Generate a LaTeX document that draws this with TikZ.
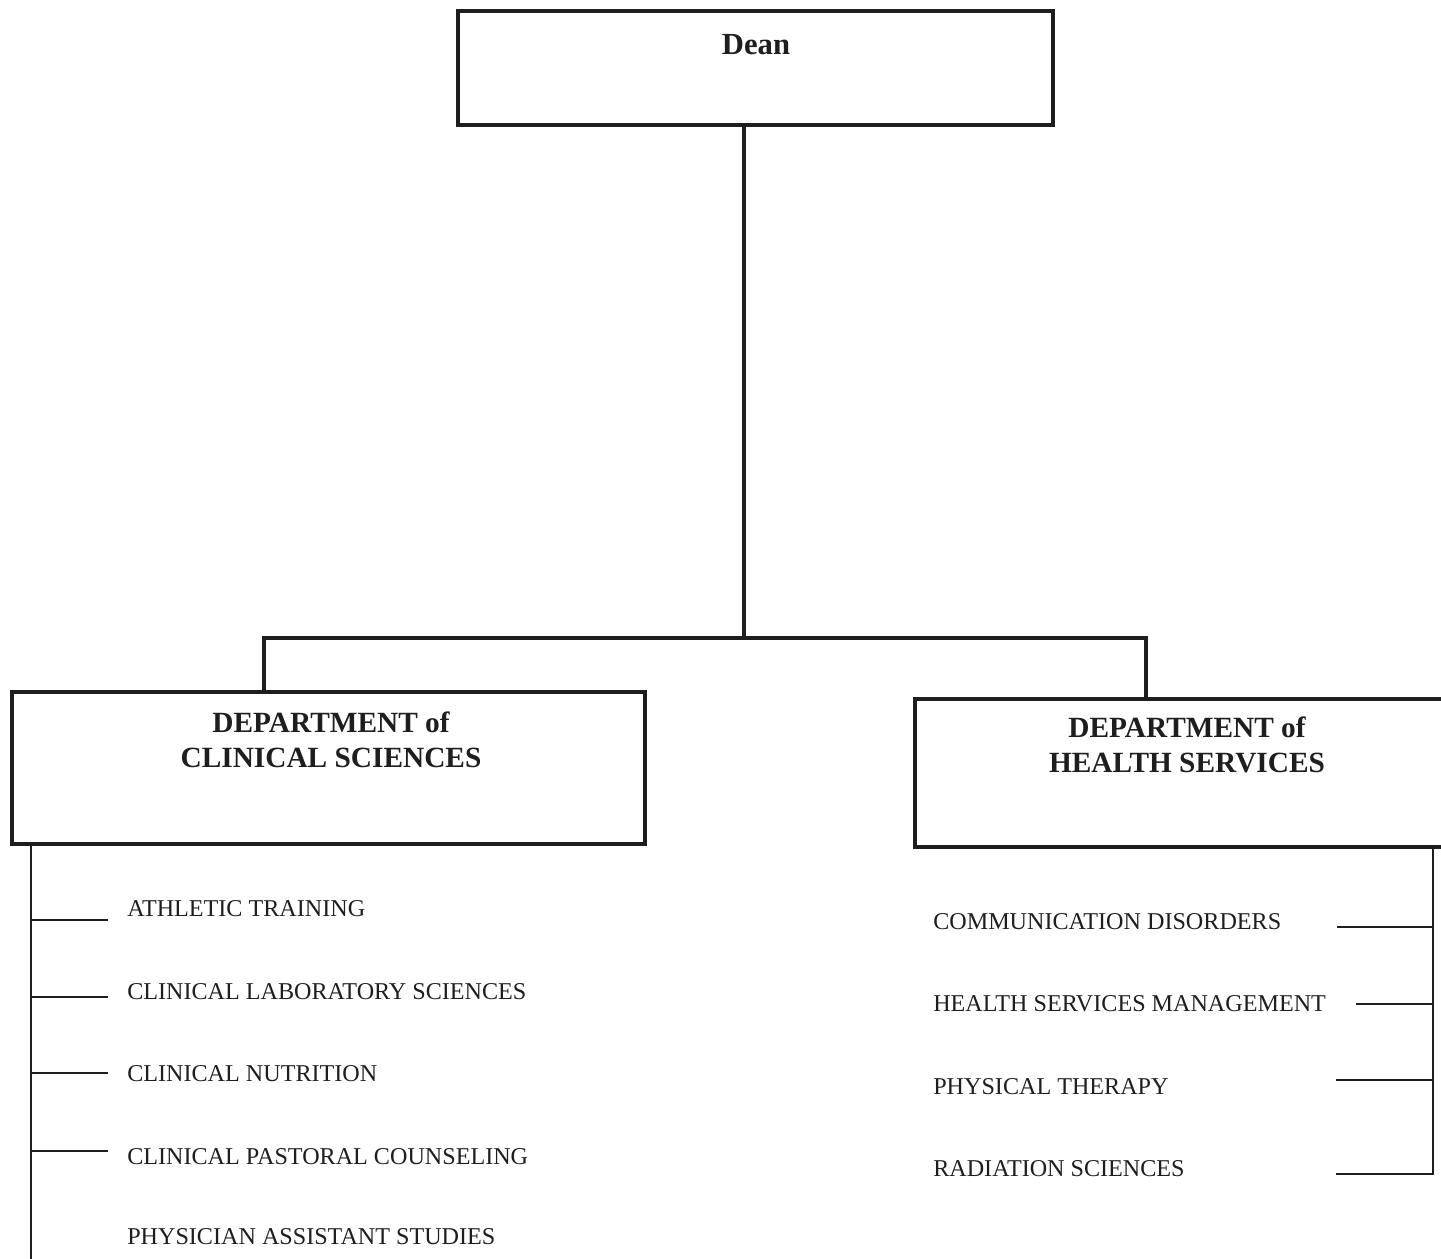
\documentclass[tikz,border=0pt]{standalone}
\usepackage{fontspec}
\setmainfont{Liberation Serif}
\definecolor{ink}{HTML}{1E1E1E}
\begin{document}
\begin{tikzpicture}[x=0.75pt,y=-0.75pt,
  boxstyle/.style={draw=ink,line width=3pt,inner sep=0pt},
  headtext/.style={text=ink,font=\bfseries\fontsize{22}{26.25}\selectfont,align=center,inner sep=0pt},
  itemtext/.style={text=ink,font=\fontsize{18.1}{20}\selectfont,anchor=west,inner sep=0pt},
  barline/.style={draw=ink,line width=3pt},
  stemline/.style={draw=ink,line width=2.4pt},
  busline/.style={draw=ink,line width=1.5pt},
  branchline/.style={draw=ink,line width=1.4pt}]
\useasboundingbox[fill=white] (0,0) rectangle (1441,1258);
\begin{scope}
\clip (0,0) rectangle (1441,1258);
% boxes
\node[boxstyle,minimum width=446.25pt,minimum height=85.5pt] (dean) at (755.5,68) {};
\node[boxstyle,minimum width=474.75pt,minimum height=114pt] (cs) at (328.5,768) {};
\node[boxstyle,minimum width=401.25pt,minimum height=111pt] (hs) at (1182.5,773) {};
% box texts
\node[text=ink,font=\bfseries\fontsize{23}{27}\selectfont,inner sep=0pt] (deant) at (756,45) {Dean};
\node[headtext] (cst) at (331,740) {DEPARTMENT of\\CLINICAL SCIENCES};
\node[headtext] (hst) at (1187,745) {DEPARTMENT of\\HEALTH SERVICES};
% tree connectors
\coordinate (bm) at (744,638);
\coordinate (bl) at (264,638);
\coordinate (br) at (1146,638);
\draw[stemline] (dean.south -| bm) -- (bm);
\draw[barline,line join=miter] (bl |- cs.north) -- (bl) -- (br) -- (br |- hs.north);
% left bus
\coordinate (lbus) at (31,0);
\coordinate (lend) at (31,1270);
\draw[busline] (cs.south -| lbus) -- (lend);
\node[itemtext] (a1) at (127,909) {ATHLETIC TRAINING};
\node[itemtext] (a2) at (127,992) {CLINICAL LABORATORY SCIENCES};
\node[itemtext] (a3) at (127,1074) {CLINICAL NUTRITION};
\node[itemtext] (a4) at (127,1157) {CLINICAL PASTORAL COUNSELING};
\node[itemtext] (a5) at (127,1237) {PHYSICIAN ASSISTANT STUDIES};
\coordinate (lb1) at (108,920);
\coordinate (lb2) at (108,997);
\coordinate (lb3) at (108,1073);
\coordinate (lb4) at (108,1151);
\foreach \c in {lb1,lb2,lb3,lb4} \draw[branchline] (\c -| lbus) -- (\c);
% right bus
\coordinate (rbus) at (1433,0);
\coordinate (rb1) at (1337,927);
\coordinate (rb2) at (1356,1004);
\coordinate (rb3) at (1336,1080);
\coordinate (rb4) at (1336,1174);
\draw[busline,line join=miter] (hs.south -| rbus) -- (rb4 -| rbus) -- (rb4);
\foreach \c in {rb1,rb2,rb3} \draw[branchline] (\c -| rbus) -- (\c);
\node[itemtext] (b1) at (933,922) {COMMUNICATION DISORDERS};
\node[itemtext] (b2) at (933,1004) {HEALTH SERVICES MANAGEMENT};
\node[itemtext] (b3) at (933,1087) {PHYSICAL THERAPY};
\node[itemtext] (b4) at (933,1169) {RADIATION SCIENCES};
\end{scope}
\end{tikzpicture}
\end{document}
